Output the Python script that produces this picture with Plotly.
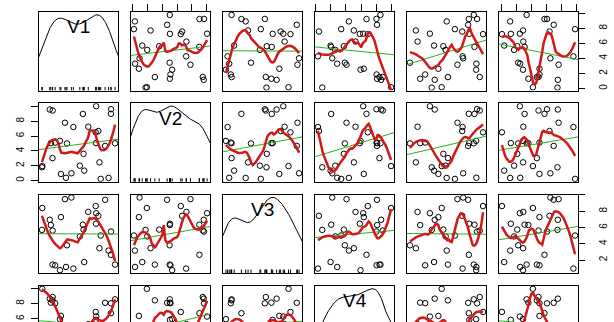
import numpy as np
import plotly.graph_objects as go

# ---- data (30 observations, 6 variables) ----
V1 = [9.75, 8.89, 7.86, 7.69, 8.44, 7.24, 7.55, 7.20, 9.20, 9.22, 7.26, 6.22, 5.69, 5.11, 5.60,
      3.29, 2.62, 4.26, 3.15, 3.42, 2.49, 1.86, 1.29, 1.51, 1.53, 1.15, 0.12, 0.17, 5.51, 4.00]
V2 = [5.03, 0.33, 0.20, 2.44, 4.67, 5.05, 6.69, 6.51, 9.02, 9.64, 10.05, 7.27, 1.32, 1.99, 3.60,
      0.35, 0.87, 7.23, 7.81, 5.01, 5.35, 5.12, 5.04, 3.02, 9.47, 9.60, 1.77, 1.94, 9.00, 0.96]
V3 = [1.44, 3.16, 5.01, 3.45, 9.40, 6.46, 7.43, 8.63, 2.64, 5.50, 7.75, 7.91, 1.75, 4.90, 5.74,
      1.15, 7.27, 0.95, 9.48, 3.81, 0.75, 1.35, 6.30, 1.44, 5.62, 6.94, 5.70, 8.39, 6.34, 9.68]
V4 = [8.56, 4.39, 3.38, 5.05, 8.10, 5.84, 0.44, 6.89, 6.72, 8.03, 6.28, 5.27, 1.98, 2.60, 3.73,
      2.85, 6.36, 0.31, 4.08, 3.86, 5.93, 8.05, 8.12, 8.43, 8.87, 8.65, 0.88, 9.96, 2.06, 2.20]
V5 = [8.61, 4.96, 6.07, 0.81, 7.85, 8.00, 7.05, 9.86, 7.94, 9.05, 2.70, 1.04, 3.26, 4.82, 4.51,
      8.96, 3.84, 7.10, 6.41, 0.01, 8.93, 2.06, 1.39, 5.13, 9.41, 3.35, 2.95, 4.29, 8.70, 7.18]
V6 = [3.37, 1.19, 9.78, 2.90, 6.95, 1.28, 6.40, 0.10, 5.73, 6.07, 2.47, 2.93, 0.40, 1.71, 2.13,
      2.52, 5.07, 9.56, 7.60, 2.25, 2.89, 5.07, 3.60, 4.72, 4.94, 7.50, 7.45, 4.20, 3.10, 6.51]

var_names = ["V1", "V2", "V3", "V4", "V5", "V6"]
variables = [V1, V2, V3, V4, V5, V6]
axis_ticks = [0, 2, 4, 6, 8, 10]

# ---- layout geometry (pixels) ----
W, H = 614, 322
COL_X0, COL_STEP, PW = 39, 92, 79
ROW_Y0, ROW_STEP, PH = 12, 91.3, 78.5
N_VIS_ROWS = 4
RED = "#D01A1A"
GREEN = "#22B422"
TICKFONT = dict(family="Liberation Sans, Arial, sans-serif", size=10, color="black")


def vrange(v):
    v = np.asarray(v, float)
    lo, hi = v.min(), v.max()
    r = hi - lo
    return lo - 0.04 * r, hi + 0.04 * r


def loess(x, y, xe, span=0.5, degree=2, iterations=4):
    x = np.asarray(x, float)
    y = np.asarray(y, float)
    n = len(x)
    q = int(np.floor(n * span))
    rw = np.ones(n)

    def fit_at(x0, rw):
        d = np.abs(x - x0)
        h = max(np.sort(d)[q - 1], 1e-9)
        w = np.clip(1 - (d / h) ** 3, 0, None) ** 3 * rw
        X = np.vander(x - x0, degree + 1, increasing=True)
        sw = np.sqrt(w)
        beta = np.linalg.lstsq(X * sw[:, None], y * sw, rcond=None)[0]
        return beta[0]

    for _ in range(iterations - 1):
        fitted = np.array([fit_at(xi, rw) for xi in x])
        res = y - fitted
        s = np.median(np.abs(res))
        u = res / (6 * s) if s > 0 else res * 0
        rw = np.where(np.abs(u) < 1, (1 - u ** 2) ** 2, 0.0)
    return np.array([fit_at(x0, rw) for x0 in xe])


def density(v):
    v = np.asarray(v, float)
    n = len(v)
    iqr = np.subtract(*np.percentile(v, [75, 25]))
    bw = 0.9 * min(v.std(ddof=1), iqr / 1.34) * n ** (-0.2)
    grid = np.linspace(v.min() - 3 * bw, v.max() + 3 * bw, 512)
    d = np.exp(-0.5 * ((grid[:, None] - v[None, :]) / bw) ** 2).sum(1) / (n * bw * np.sqrt(2 * np.pi))
    return grid, d


fig = go.Figure()
layout = dict(width=W, height=H, margin=dict(l=0, r=0, t=0, b=0),
              paper_bgcolor="white", plot_bgcolor="white", showlegend=False,
              annotations=[])

for r in range(N_VIS_ROWS):
    for c in range(6):
        k = r * 6 + c + 1
        xs = "" if k == 1 else str(k)
        xv = np.asarray(variables[c], float)
        yv = np.asarray(variables[r], float)
        xlo, xhi = vrange(xv)
        ylo, yhi = vrange(yv)

        px0 = COL_X0 + COL_STEP * c
        px1 = px0 + PW
        py0 = ROW_Y0 + ROW_STEP * r
        py1 = py0 + PH
        ydom_bottom = 1 - py1 / H
        yr_lo = ylo
        partial = ydom_bottom < 0
        if partial:
            ydom_bottom = 0.0
            yr_lo = yhi - (H - py0) / PH * (yhi - ylo)

        xa = dict(domain=[px0 / W, px1 / W], range=[xlo, xhi], anchor="y" + xs,
                  showgrid=False, zeroline=False, showticklabels=False, ticks="",
                  showline=True, linecolor="black", linewidth=1, mirror=True)
        ya = dict(domain=[ydom_bottom, 1 - py0 / H], range=[yr_lo, yhi], anchor="x" + xs,
                  showgrid=False, zeroline=False, showticklabels=False, ticks="",
                  showline=True, linecolor="black", linewidth=1, mirror=True)
        if partial:
            xa.update(side="top", mirror=False)
        if r == 0 and c % 2 == 1:
            xa.update(side="top", ticks="outside", ticklen=7, tickcolor="black",
                      tickvals=axis_ticks)
        if c == 5 and r % 2 == 0:
            ya.update(side="right", ticks="outside", ticklen=6, tickcolor="black",
                      tickvals=[t for t in axis_ticks if ylo <= t <= yhi],
                      ticktext=[str(t) if t < 10 else "" for t in axis_ticks if ylo <= t <= yhi],
                      showticklabels=True, tickangle=-90, tickfont=TICKFONT,
                      ticklabelstandoff=10)
        if c == 0 and r % 2 == 1:
            ya.update(side="left", ticks="outside", ticklen=7, tickcolor="black",
                      tickvals=[t for t in axis_ticks if ylo <= t <= yhi],
                      ticktext=[str(t) if t < 10 else "" for t in axis_ticks if ylo <= t <= yhi],
                      showticklabels=True, tickangle=-90, tickfont=TICKFONT,
                      ticklabelstandoff=3)
        layout["xaxis" + xs] = xa
        layout["yaxis" + xs] = ya
        xref, yref = "x" + xs, "y" + xs

        if r == c:
            g, d = density(xv)
            dy = xv.min() + d * (xv.max() - xv.min()) / (d.max() - d.min())
            fig.add_trace(go.Scatter(x=g, y=dy, mode="lines", xaxis=xref, yaxis=yref,
                                     line=dict(color="black", width=1), hoverinfo="skip"))
            rx, ry = [], []
            tick_h = 0.045 * (yhi - ylo)
            for val in xv:
                rx += [val, val, None]
                ry += [ylo, ylo + tick_h, None]
            fig.add_trace(go.Scatter(x=rx, y=ry, mode="lines", xaxis=xref, yaxis=yref,
                                     line=dict(color="black", width=1), hoverinfo="skip"))
            layout["annotations"].append(dict(
                text=var_names[r], x=(xlo + xhi) / 2, y=yhi - 0.19 * (yhi - ylo),
                xref=xref, yref=yref, showarrow=False,
                font=dict(family="Liberation Sans, Arial, sans-serif", size=19, color="black")))
        else:
            fig.add_trace(go.Scatter(x=xv, y=yv, mode="markers", xaxis=xref, yaxis=yref,
                                     marker=dict(symbol="circle-open", size=5.5, color="black",
                                                 line=dict(width=1, color="black"))))
            slope, icpt = np.polyfit(xv, yv, 1)
            lx = np.array([xlo, xhi])
            fig.add_trace(go.Scatter(x=lx, y=icpt + slope * lx, mode="lines", xaxis=xref,
                                     yaxis=yref, line=dict(color=GREEN, width=1)))
            xe = np.linspace(xv.min(), xv.max(), 50)
            fig.add_trace(go.Scatter(x=xe, y=loess(xv, yv, xe), mode="lines", xaxis=xref,
                                     yaxis=yref, line=dict(color=RED, width=2.5)))

fig.update_layout(**layout)
fig.write_html("out.html")
